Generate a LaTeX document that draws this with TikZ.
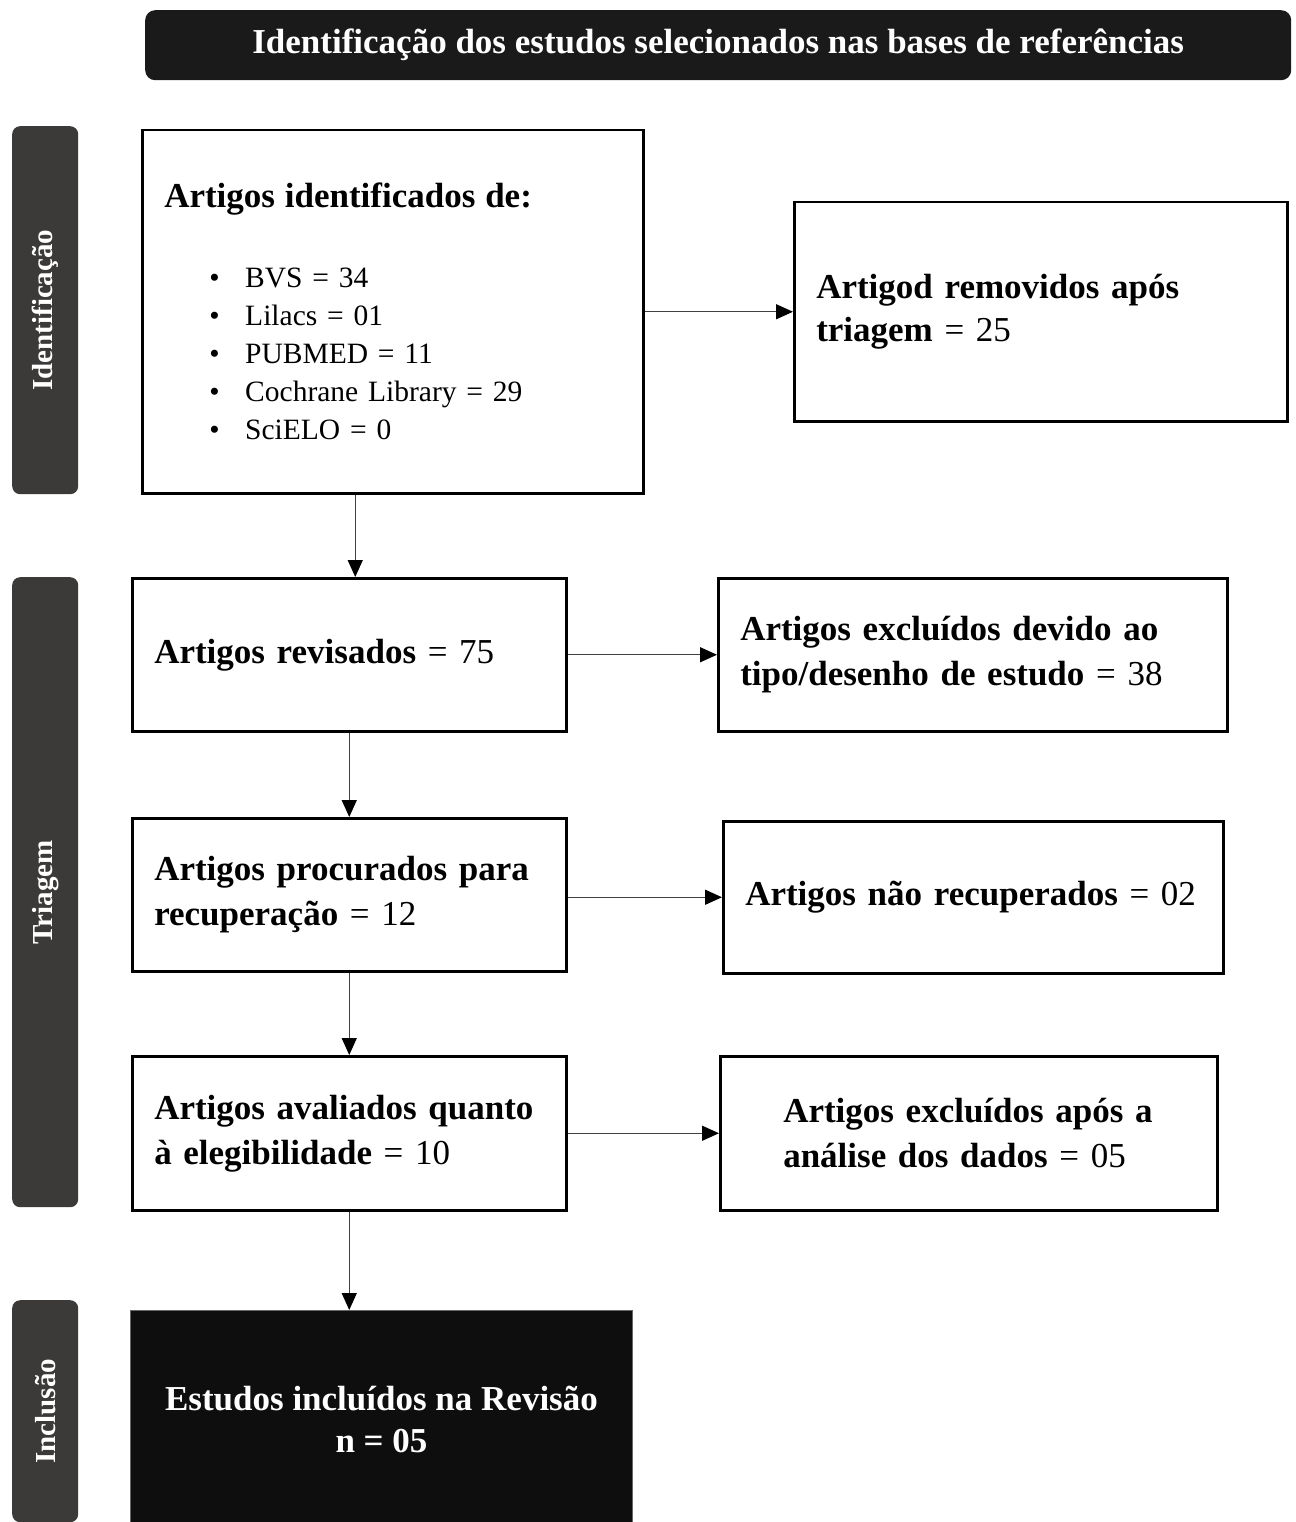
\documentclass[tikz,border=0pt]{standalone}
\usepackage{fontspec}
\setmainfont{Liberation Serif}
\usetikzlibrary{arrows.meta,positioning}
\definecolor{bannerblack}{HTML}{1A1A1A}
\definecolor{sidegray}{HTML}{3B3A39}
\definecolor{finalblack}{HTML}{0E0E0E}

\begin{document}
\begin{tikzpicture}[x=1pt,y=-1pt,
    box/.style={draw,line width=2.5pt,anchor=north west,align=left,inner xsep=22pt,
      font=\fontsize{35}{45}\selectfont},
    side/.style={fill=sidegray,rounded corners=8pt,anchor=north west,minimum width=66pt,
      text=white,font=\fontsize{29}{35}\selectfont\bfseries},
    flow/.style={-{Triangle[length=17pt,width=15pt,color=black]},line width=1.4pt,draw=black!75}]
    \useasboundingbox (0,0) rectangle (1295,1522);

    \node[fill=bannerblack,rounded corners=10pt,anchor=north west,minimum width=1146pt,minimum height=70pt,
      text=white,font=\fontsize{35}{42}\selectfont\bfseries] (banner) at (145,10)
      {Identificação dos estudos selecionados nas bases de referências};

    \node[side,minimum height=368pt] (sideid) at (12,126) {\rotatebox{90}{Identificação}};
    \node[side,minimum height=630pt] (sidetri) at (12,577) {\rotatebox{90}{Triagem}};
    \node[side,minimum height=222pt] (sideinc) at (12,1300) {\rotatebox{90}{Inclusão}};

    \node[box,minimum width=501pt,minimum height=363pt,text width=457pt,
      font=\fontsize{29.5}{38}\selectfont] (ident) at (141,129)
      {{\fontsize{35}{38}\selectfont\bfseries Artigos identificados de:}\\[42pt]
       \hspace*{45pt}\makebox[36pt][l]{\textbullet}BVS = 34\\
       \hspace*{45pt}\makebox[36pt][l]{\textbullet}Lilacs = 01\\
       \hspace*{45pt}\makebox[36pt][l]{\textbullet}PUBMED = 11\\
       \hspace*{45pt}\makebox[36pt][l]{\textbullet}Cochrane Library = 29\\
       \hspace*{45pt}\makebox[36pt][l]{\textbullet}SciELO = 0};
    \node[box,minimum width=493pt,minimum height=219pt,text width=449pt,
      font=\fontsize{35}{43}\selectfont] (removed) at (793,201)
      {\textbf{Artigod removidos após}\\\textbf{triagem} = 25};

    \node[box,minimum width=434pt,minimum height=153pt,text width=390pt] (revised) at (131,577)
      {\textbf{Artigos revisados} = 75};
    \node[box,minimum width=509pt,minimum height=153pt,text width=465pt] (excltype) at (717,577)
      {\textbf{Artigos excluídos devido ao}\\\textbf{tipo/desenho de estudo} = 38};

    \node[box,minimum width=434pt,minimum height=153pt,text width=390pt] (sought) at (131,817)
      {\textbf{Artigos procurados para}\\\textbf{recuperação} = 12};
    \node[box,minimum width=500pt,minimum height=152pt,text width=456pt] (notret) at (722,820)
      {\textbf{Artigos não recuperados} = 02};

    \node[box,minimum width=434pt,minimum height=154pt,text width=390pt] (assessed) at (131,1055)
      {\textbf{Artigos avaliados quanto}\\\textbf{à elegibilidade} = 10};
    \node[box,minimum width=497pt,minimum height=154pt,inner xsep=63pt,text width=371pt] (exclanal) at (719,1055)
      {\textbf{Artigos excluídos após a}\\\textbf{análise dos dados} = 05};

    \node[fill=finalblack,draw=black!60,line width=1pt,anchor=north west,minimum width=502pt,minimum height=218pt,
      align=center,text=white,font=\fontsize{35}{42}\selectfont\bfseries] (final) at (130,1310)
      {Estudos incluídos na Revisão\\n = 05};

    \draw[flow] (ident.east) -- (removed.west);
    \draw[flow] ([xshift=6pt]revised.north |- ident.south) -- ([xshift=6pt]revised.north);
    \draw[flow] (revised.east |- excltype.west) -- (excltype.west);
    \draw[flow] (revised.south) -- (sought.north);
    \draw[flow] (sought.east |- notret.west) -- (notret.west);
    \draw[flow] (sought.south) -- (assessed.north);
    \draw[flow] (assessed.east |- exclanal.west) -- (exclanal.west);
    \draw[flow] (assessed.south) -- (assessed.south |- final.north);

\end{tikzpicture}
\end{document}
